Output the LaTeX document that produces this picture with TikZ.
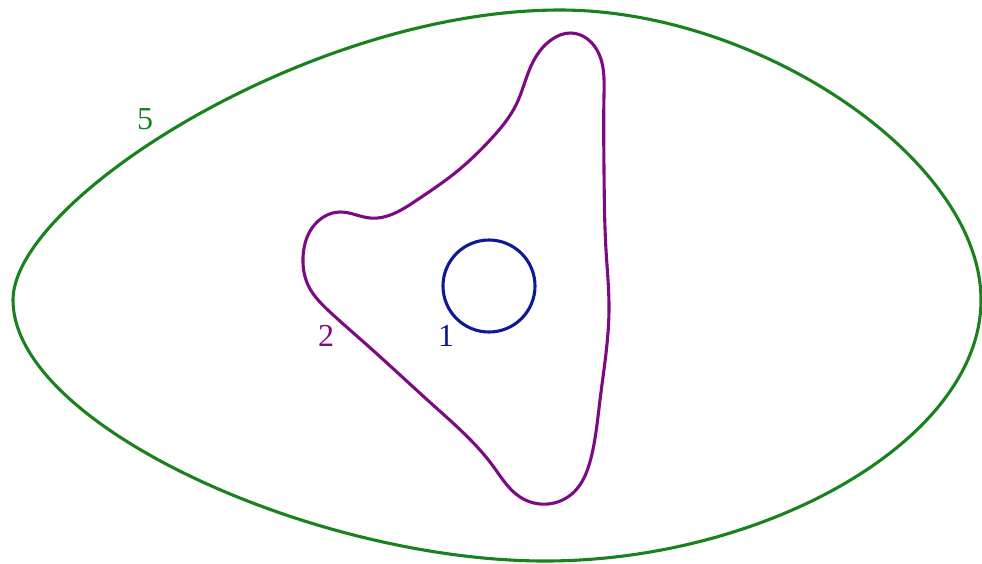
\documentclass[tikz,border=0pt]{standalone}
\usepackage{fontspec}
\setmainfont{Liberation Serif}
\usetikzlibrary{hobby}
\definecolor{cgreen}{RGB}{25,130,30}
\definecolor{cpurple}{RGB}{125,10,130}
\definecolor{cblue}{RGB}{15,25,150}
\begin{document}
\begin{tikzpicture}[x=1pt,y=-1pt,
  curve/.style={line width=3.1pt},
  lbl/.style={font=\fontsize{32}{32}\selectfont, inner sep=0pt}]
\useasboundingbox (0,0) rectangle (982,563);
% outer green egg
\draw[curve, cgreen] (13,300) .. controls (13,200) and (310,10) .. (560,10)
  .. controls (760,10) and (981,160) .. (981,300)
  .. controls (981,440) and (765,561) .. (545,561)
  .. controls (315,561) and (13,425) .. (13,300) -- cycle;
% purple blob
\draw[curve, cpurple, use Hobby shortcut, closed=true]
 (571,33) .. (597,50) .. (604,95) .. (604,170) .. (606,250) .. (609,310)
 .. (600,400) .. (591,458) .. (574,492) .. (548,504) .. (520,497)
 .. (493,466) .. (433,405) .. (367,345) .. (330,312) .. (308,285)
 .. (303,258) .. (312,228) .. (340,212) .. (370,218) .. (417,200)
 .. (455,173) .. (491,139) .. (516,105) .. (534,60) .. (551,40);
% blue circle
\draw[curve, cblue] (489,286) circle[radius=46];
% labels
\node[lbl, text=cgreen] (l5) at (145,119) {5};
\node[lbl, text=cpurple] (l2) at (326,336) {2};
\node[lbl, text=cblue] (l1) at (446,336) {1};
\end{tikzpicture}
\end{document}
